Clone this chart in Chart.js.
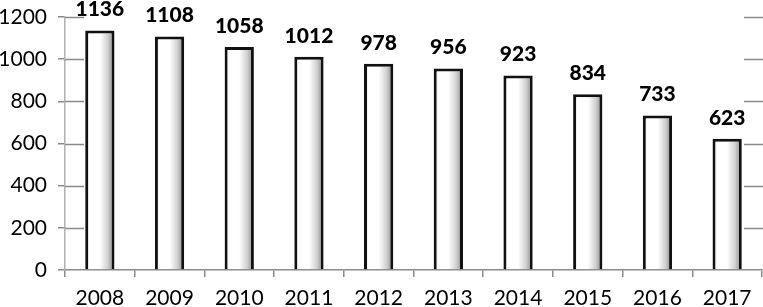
<!DOCTYPE html>
<html>
<head>
<meta charset="utf-8">
<script src="https://cdn.jsdelivr.net/npm/chart.js@4"></script>
<style>
  html, body { margin: 0; padding: 0; background: #fff; }
  #wrap { width: 763px; height: 307px; }
</style>
</head>
<body>
<div id="wrap"><canvas id="barChart"></canvas></div>
<script>
const years = ['2008', '2009', '2010', '2011', '2012', '2013', '2014', '2015', '2016', '2017'];
const counts = [1136, 1108, 1058, 1012, 978, 956, 923, 834, 733, 623];
const yTicks = [0, 200, 400, 600, 800, 1000, 1200];

// white-to-grey shading across each bar, like the original
function barFill(context) {
    const chart = context.chart;
    const xs = chart.scales.x;
    if (!xs || context.dataIndex === undefined) return '#fff';
    const cx = xs.getPixelForValue(context.dataIndex);
    const w = xs.width / years.length * 0.42;
    if (!isFinite(cx) || !isFinite(w) || w <= 0) return '#fff';
    const g = chart.ctx.createLinearGradient(cx - w / 2, 0, cx + w / 2, 0);
    g.addColorStop(0, '#c8c8c8');
    g.addColorStop(0.15, '#ffffff');
    g.addColorStop(0.5, '#ffffff');
    g.addColorStop(0.78, '#cfcfcf');
    g.addColorStop(1, '#808080');
    return g;
}

// short grid stubs at both ends + value labels above bars
const extras = {
    id: 'extras',
    beforeDatasetsDraw(chart) {
        const { ctx, chartArea, scales } = chart;
        ctx.save();
        ctx.strokeStyle = '#8a8a8a';
        ctx.lineWidth = 1.5;
        yTicks.forEach(v => {
            if (v === 0) return;
            const y = Math.round(scales.y.getPixelForValue(v)) + 0.5;
            ctx.beginPath();
            ctx.moveTo(chartArea.left, y);
            ctx.lineTo(chartArea.left + 19, y);
            ctx.moveTo(chartArea.right - 18, y);
            ctx.lineTo(chartArea.right + 1, y);
            ctx.stroke();
        });
        ctx.restore();
    },
    afterDatasetsDraw(chart) {
        const { ctx } = chart;
        const meta = chart.getDatasetMeta(0);
        ctx.save();
        ctx.font = '900 21px Lato';
        ctx.fillStyle = '#000';
        ctx.textAlign = 'center';
        ctx.textBaseline = 'alphabetic';
        meta.data.forEach((bar, i) => {
            ctx.fillText(String(counts[i]), bar.x, bar.y - 14);
        });
        ctx.restore();
    }
};

new Chart(document.getElementById('barChart'), {
    type: 'bar',
    data: {
        labels: years,
        datasets: [{
            data: counts,
            backgroundColor: barFill,
            borderColor: '#111',
            borderWidth: { left: 3, right: 3, top: 3, bottom: 0 },
            borderSkipped: false,
            barPercentage: 0.42,
            categoryPercentage: 1
        }]
    },
    options: {
        responsive: true,
        maintainAspectRatio: false,
        animation: false,
        layout: { padding: { top: 17, right: 1, left: 0, bottom: 0 } },
        plugins: {
            legend: { display: false },
            tooltip: { enabled: false }
        },
        scales: {
            x: {
                grid: { drawOnChartArea: false, tickLength: 7, color: '#8a8a8a', lineWidth: 1.5 },
                border: { color: '#8a8a8a', width: 1.5 },
                ticks: { color: '#000', font: { family: 'Lato', size: 21 }, padding: 9, maxRotation: 0 },
                afterFit(scale) { scale.height = 37; }
            },
            y: {
                min: 0,
                max: 1200,
                afterBuildTicks(scale) { scale.ticks = yTicks.map(v => ({ value: v })); },
                grid: { drawOnChartArea: false, tickLength: 7, color: '#8a8a8a', lineWidth: 1.5 },
                border: { color: '#b0b0b0', width: 1.5 },
                ticks: {
                    color: '#000',
                    font: { family: 'Lato', size: 21 },
                    padding: 11,
                    callback: v => String(v)
                },
                afterFit(scale) {
                    scale.width = 65;
                    scale.paddingTop = 0;
                    scale.paddingBottom = 0;
                }
            }
        }
    },
    plugins: [extras]
});
</script>
</body>
</html>
